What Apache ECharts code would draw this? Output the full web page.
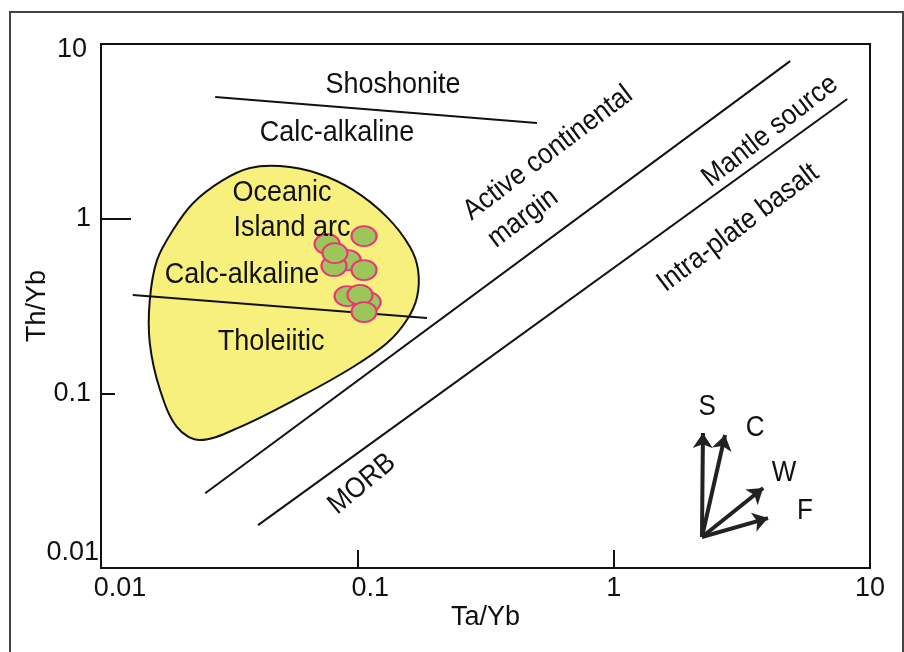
<!DOCTYPE html>
<html>
<head>
<meta charset="utf-8">
<script src="https://cdn.jsdelivr.net/npm/echarts@6/dist/echarts.min.js"></script>
<style>
html,body{margin:0;padding:0;background:#fff;}
#chart{width:904px;height:652px;}
</style>
</head>
<body>
<div id="chart"></div>
<script>
// ---- data ----
const xTicks = [0.01, 0.1, 1, 10];
const yTicks = [0.01, 0.1, 1, 10];

// Oceanic island arc field outline (Ta/Yb, Th/Yb)
const fieldTaYb = [0.0191,0.0229,0.0299,0.0381,0.0499,0.0697,0.0962,0.1306,0.1607,0.1726,0.171,0.156,0.1306,0.0962,0.0597,0.0348,0.0243,0.0198,0.0170,0.0155,0.0155,0.01654];
const fieldThYb = [0.861,1.23,1.66,1.95,2.0,1.82,1.46,1.02,0.687,0.508,0.356,0.263,0.194,0.1415,0.0953,0.0641,0.054,0.0641,0.1045,0.194,0.342,0.579];

// samples
const sampleTaYb = [0.0921,0.0811,0.0762,0.0818,0.1062,0.1062,0.1102,0.0912,0.1024,0.1062];
const sampleThYb = [0.579,0.536,0.716,0.635,0.794,0.508,0.333,0.360,0.366,0.292];

// boundary lines: [start, end]
const boundaryTaYb = [[0.0279,0.502],[0.0133,0.187],[0.0255,4.88],[0.041,8.15]];
const boundaryThYb = [[4.97,3.53],[0.366,0.270],[0.0268,7.98],[0.0176,4.84]];

// enrichment vectors
const vectorNames = ['S','C','W','F'];
const vectorOriginTaYb = 2.21;
const vectorOriginThYb = 0.01504;
const vectorTipTaYb = [2.23, 2.72, 3.83, 4.0];
const vectorTipThYb = [0.0592, 0.0577, 0.0287, 0.0193];
const vectorLabelTaYb = [2.314, 3.56, 4.62, 5.58];
const vectorLabelThYb = [0.0834, 0.0633, 0.035, 0.0212];

// region labels
const regionLabels = ['Shoshonite','Calc-alkaline','Oceanic','Island arc','Calc-alkaline','Tholeiitic','Active continental','margin','Mantle source','Intra-plate basalt','MORB'];
const regionTaYb = [0.1378,0.0833,0.0508,0.0556,0.0355,0.0461,0.5546,0.443,4.076,3.058,0.1043];
const regionThYb = [5.82,3.09,1.40,0.884,0.4755,0.1966,2.375,1.008,3.172,0.884,0.03026];

// ---- styles ----
const regionAngle = [0,0,0,0,0,0,37,37,38,37,40];
const FONT = '"Liberation Sans", Arial, Helvetica, sans-serif';
const TXT = '#111';

const chart = echarts.init(document.getElementById('chart'), null, {renderer:'canvas'});

function fmt(v){ return String(Number(Number(v).toPrecision(3))); }

const series = [];

// field polygon
series.push({
  type: 'custom',
  coordinateSystem: 'cartesian2d',
  xAxisIndex: 0, yAxisIndex: 0,
  data: [[fieldTaYb[0], fieldThYb[0]]],
  silent: true,
  z: 2,
  renderItem: function(params, api){
    const pts = fieldTaYb.map((x,i)=>api.coord([x, fieldThYb[i]]));
    return {
      type: 'polygon',
      shape: {points: pts, smooth: 0.35},
      style: {fill: '#f7f07c', stroke: '#111', lineWidth: 2}
    };
  }
});

// boundary lines
boundaryTaYb.forEach((xs, i) => {
  series.push({
    type: 'line',
    data: [[xs[0], boundaryThYb[i][0]], [xs[1], boundaryThYb[i][1]]],
    symbol: 'none',
    lineStyle: {color: '#111', width: 2},
    silent: true,
    z: 3
  });
});

// samples
series.push({
  type: 'scatter',
  data: sampleTaYb.map((x,i)=>[x, sampleThYb[i]]),
  symbol: 'circle',
  symbolSize: [25, 20],
  itemStyle: {color: '#9cc65a', borderColor: '#e8357a', borderWidth: 2, opacity: 1},
  z: 4
});

// vectors
series.push({
  type: 'lines',
  coordinateSystem: 'cartesian2d',
  data: vectorNames.map((n,i)=>({coords: [[vectorOriginTaYb, vectorOriginThYb],[vectorTipTaYb[i], vectorTipThYb[i]]]})),
  symbol: ['none','arrow'],
  symbolSize: 15,
  lineStyle: {color: '#222', width: 4, opacity: 1},
  silent: true,
  z: 4
});

// texts
const textItems = [];
regionLabels.forEach((t,i)=>textItems.push({t, x: regionTaYb[i], y: regionThYb[i], a: regionAngle[i], s: regionAngle[i] ? 26 : 27}));
vectorNames.forEach((t,i)=>textItems.push({t, x: vectorLabelTaYb[i], y: vectorLabelThYb[i], a: 0, s: 26}));

series.push({
  type: 'custom',
  coordinateSystem: 'cartesian2d',
  data: textItems.map(o=>[o.x, o.y]),
  silent: true,
  z: 5,
  renderItem: function(params, api){
    const o = textItems[params.dataIndex];
    const p = api.coord([api.value(0), api.value(1)]);
    return {
      type: 'text',
      x: p[0], y: p[1],
      rotation: o.a * Math.PI / 180,
      scaleX: 1, scaleY: 1.1,
      style: {text: o.t, fontSize: o.s, fontFamily: FONT, fill: TXT, align: 'center', verticalAlign: 'middle'}
    };
  }
});

const option = {
  animation: false,
  backgroundColor: '#fff',
  textStyle: {fontFamily: FONT},
  graphic: [{
    type: 'rect',
    shape: {x: 10, y: 12, width: 893, height: 660},
    style: {fill: 'none', stroke: '#444', lineWidth: 2},
    z: 0, silent: true
  }],
  grid: {left: 101, right: 34, top: 44, bottom: 84, show: true, borderColor: '#111', borderWidth: 2, backgroundColor: 'transparent'},
  xAxis: {
    type: 'log', logBase: 10, min: 0.01, max: 10,
    name: 'Ta/Yb', nameLocation: 'middle', nameGap: 36, nameMoveOverlap: false,
    nameTextStyle: {fontSize: 27, color: TXT, fontFamily: FONT},
    axisLine: {show: false},
    axisTick: {show: true, inside: true, length: 18, customValues: [0.1, 1], lineStyle: {color: '#111', width: 2}},
    axisLabel: {
      show: true, margin: 7, color: TXT, fontSize: 27, fontFamily: FONT,
      customValues: xTicks,
      formatter: function(v){
        const s = fmt(v);
        if (s === '0.01') return '{l|' + s + '}';
        if (s === '0.1') return '{m|' + s + '}';
        return s;
      },
      rich: {
        l: {fontSize: 27, color: TXT, fontFamily: FONT, padding: [0,0,0,38]},
        m: {fontSize: 27, color: TXT, fontFamily: FONT, padding: [0,0,0,26]}
      }
    },
    splitLine: {show: false}
  },
  yAxis: [{
    type: 'log', logBase: 10, min: 0.01, max: 10,
    name: 'Th/Yb', nameLocation: 'middle', nameGap: 50, nameRotate: 90, nameMoveOverlap: false,
    nameTextStyle: {fontSize: 27, color: TXT, fontFamily: FONT},
    axisLine: {show: false},
    axisTick: {show: true, inside: true, length: 30, customValues: [1], lineStyle: {color: '#111', width: 2}},
    axisLabel: {
      show: true, margin: 2, color: TXT, fontSize: 27, fontFamily: FONT,
      customValues: yTicks,
      formatter: function(v){
        const s = fmt(v);
        if (s === '0.01') return '{b|' + s + '}';
        if (s === '10') return '{t|' + s + '}';
        return '{a|' + s + '}';
      },
      rich: {
        a: {fontSize: 27, color: TXT, fontFamily: FONT, padding: [0,8,0,0]},
        b: {fontSize: 27, color: TXT, fontFamily: FONT, padding: [0,0,30,0]},
        t: {fontSize: 27, color: TXT, fontFamily: FONT, padding: [12,12,0,0]}
      }
    },
    splitLine: {show: false}
  }, {
    type: 'log', logBase: 10, min: 0.01, max: 10,
    position: 'left',
    axisLine: {show: false},
    axisTick: {show: true, inside: true, length: 14, customValues: [0.1], lineStyle: {color: '#111', width: 2}},
    axisLabel: {show: false},
    splitLine: {show: false}
  }],
  series: series
};
chart.setOption(option);
</script>
</body>
</html>
